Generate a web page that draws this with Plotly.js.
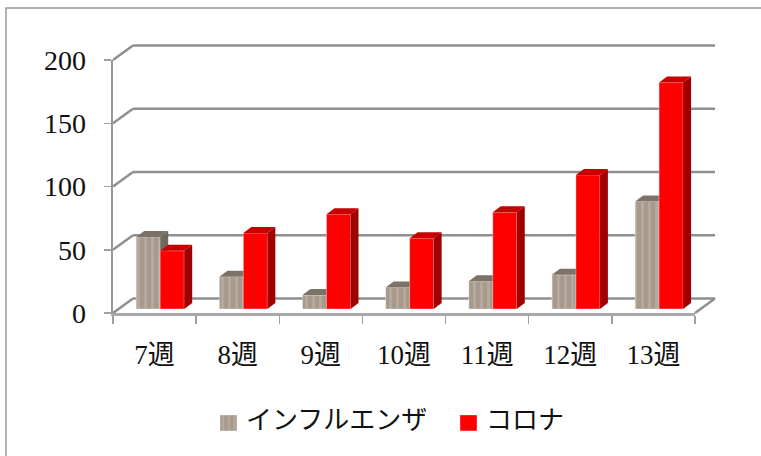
<!DOCTYPE html>
<html><head><meta charset="utf-8">
<script src="https://cdn.plot.ly/plotly-3.0.1.min.js"></script>
<style>html,body{margin:0;padding:0;background:#fff}#c{width:761px;height:456px}</style>
</head><body><div id="c"></div>
<script>
const categories = ['7週','8週','9週','10週','11週','12週','13週'];
const influenza = [57, 25.5, 11, 17, 22, 27, 85];
const corona = [46, 60, 75, 56, 76.5, 106, 179];
const yTicks = [0, 50, 100, 150, 200];
const seriesNames = ['インフルエンザ', 'コロナ'];

const W = 761, H = 456;
const plot = {l:100, r:725, t:35, b:325};
const front = {l:113, r:695, y0:313, y200:60};
const ux = (front.r-front.l)/categories.length;
const uy = (front.y0-front.y200)/200;
const wallDx = 20/ux, wallDy = 14.5/uy;
const barDx = 8/ux, barDy = 6/uy;
const barW = 24/ux, barOffX = 23.2/ux, barBase = 4/uy;
const font = 'Liberation Serif, "Noto Sans CJK JP", serif';

function bar(name, vals, off, color, pattern, axis){
  const centers = vals.map((_,i)=>i+off);
  return {type:'bar', name, x:centers, y:vals, base:vals.map(()=>barBase), width:barW, offset:0,
    xaxis:axis[0], yaxis:axis[1], hoverinfo:'skip',
    marker:{color, pattern, line:{color:'rgba(255,255,255,0.45)', width:0.8}}};
}
function poly(vals, off, face, color, axis){
  const x=[], y=[];
  vals.forEach((v,i)=>{
    const L=i+off, R=L+barW, t=v+barBase;
    if(face==='top'){ x.push(L,L+barDx,R+barDx,R,L,null); y.push(t,t+barDy,t+barDy,t,t,null); }
    else { x.push(R,R+barDx,R+barDx,R,R,null); y.push(barBase,barBase+barDy,t+barDy,t,barBase,null); }
  });
  return {type:'scatter', mode:'none', x, y, fill:'toself', fillcolor:color, showlegend:false,
    hoverinfo:'skip', xaxis:axis[0], yaxis:axis[1]};
}
const A1=['x','y'], A2=['x2','y2'];
const off1=barOffX, off2=barOffX+barW;
const traces=[
  bar(seriesNames[0], influenza, off1, '#aa9c8f', {shape:'|', bgcolor:'#a79a8d', fgcolor:'#b6aa9e', size:7, solidity:0.4, fillmode:'replace'}, A1),
  poly(influenza, off1, 'top', '#7d7268', A1),
  poly(influenza, off1, 'side', '#6f665c', A1),
  bar(seriesNames[1], corona, off2, '#ff0000', undefined, A2),
  poly(corona, off2, 'top', '#c80000', A2),
  poly(corona, off2, 'side', '#a00000', A2),
  {type:'scatter', mode:'none', x:[0], y:[0], xaxis:'x3', yaxis:'y3', showlegend:false, hoverinfo:'skip'}
];
const gridLine={color:'#8f8f8f', width:2.5};
const nCat=categories.length;
const shapes=[];
function seg(x0,y0,x1,y1){shapes.push({type:'line',xref:'x',yref:'y',layer:'below',x0,y0,x1,y1,line:gridLine});}
yTicks.forEach(v=>{
  seg(0,v,wallDx,v+wallDy);
  seg(wallDx,v+wallDy,nCat+wallDx,v+wallDy);
});
seg(nCat,0,nCat+wallDx,wallDy);
shapes.push({type:'rect',xref:'paper',yref:'paper',layer:'below',
  x0:(6-plot.l)/(plot.r-plot.l), x1:(790-plot.l)/(plot.r-plot.l),
  y0:(plot.b-470)/(plot.b-plot.t), y1:(plot.b-8)/(plot.b-plot.t),
  line:{color:'#9a9a9a',width:1.5}});

const xr=[(plot.l-front.l)/ux,(plot.r-front.l)/ux];
const yr=[(front.y0-plot.b)/uy,(front.y0-plot.t)/uy];
const hidden={visible:false,fixedrange:true};
const pw=plot.r-plot.l, ph=plot.b-plot.t;
const layout={
  width:W,height:H,paper_bgcolor:'#fff',plot_bgcolor:'rgba(0,0,0,0)',
  margin:{l:plot.l,r:W-plot.r,t:plot.t,b:H-plot.b,pad:0,autoexpand:false},
  barmode:'overlay',
  xaxis:Object.assign({range:xr},hidden),
  yaxis:Object.assign({range:yr},hidden),
  xaxis2:Object.assign({range:xr,overlaying:'x',anchor:'y2'},hidden),
  yaxis2:Object.assign({range:yr,overlaying:'y',anchor:'x2'},hidden),
  xaxis3:{domain:[(front.l-plot.l)/pw,(front.r-plot.l)/pw],range:[0,nCat],anchor:'y3',fixedrange:true,
    tickmode:'array',tickvals:categories.map((_,i)=>i+0.5),ticktext:categories,ticks:'',
    minor:{tickmode:'array',tickvals:categories.map((_,i)=>i).concat([nCat]),ticks:'outside',ticklen:8,tickwidth:1.5,tickcolor:'#a0a0a0'},
    showline:true,linecolor:'#a8a8a8',linewidth:2.5,showgrid:false,zeroline:false,
    ticklabelstandoff:16,tickfont:{family:font,size:27,color:'#111'}},
  yaxis3:{domain:[(plot.b-front.y0)/ph,(plot.b-front.y200)/ph],range:[0,200],anchor:'x3',fixedrange:true,
    tickmode:'array',tickvals:yTicks,ticks:'outside',ticklen:7,tickwidth:1.5,tickcolor:'#a0a0a0',
    showline:true,linecolor:'#999',linewidth:2.5,showgrid:false,zeroline:false,
    ticklabelstandoff:12,tickfont:{family:font,size:28,color:'#111'}},
  legend:{orientation:'h',x:106/pw,xanchor:'left',y:(plot.b-419)/ph,yanchor:'middle',
    entrywidth:195,entrywidthmode:'pixels',
    font:{family:font,size:26,color:'#111'},bgcolor:'rgba(0,0,0,0)',itemclick:false,itemdoubleclick:false},
  shapes,
  showlegend:true
};
function growSwatches(){
  const d='M11,12H-6V-4H11Z';
  document.querySelectorAll('.legend .legendpoints path').forEach(p=>{
    if(p.getAttribute('d') && p.getAttribute('d').indexOf('H')>=0) p.setAttribute('d',d);
  });
}
Plotly.newPlot('c',traces,layout,{displayModeBar:false,staticPlot:true}).then(()=>{
  growSwatches();
  document.getElementById('c').on('plotly_afterplot',growSwatches);
  setTimeout(growSwatches,0);
});
</script></body></html>
